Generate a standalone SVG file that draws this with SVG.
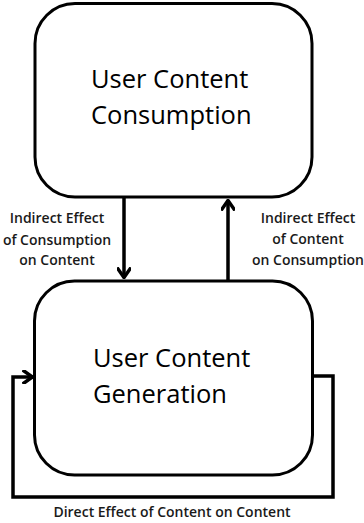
<svg xmlns="http://www.w3.org/2000/svg" width="364" height="523" viewBox="0 0 364 523">
  <style>
    .box { fill: #ffffff; stroke: #000000; stroke-width: 3; }
    .big { font-family: "Open Sans", "Liberation Sans", sans-serif; font-size: 25.5px; fill: #000000; }
    .lbl { font-family: "Open Sans", "Liberation Sans", sans-serif; font-size: 14px; font-weight: 600; fill: #1a1a1a; text-anchor: middle; }
    .wire { fill: none; stroke: #000000; stroke-width: 3.5; }
  </style>
  <defs>
    <marker id="chev" viewBox="0 0 12 14" refX="11" refY="7" markerWidth="12" markerHeight="14" markerUnits="userSpaceOnUse" orient="auto">
      <path d="M2,1 L10.5,7 L2,13" fill="none" stroke="#000000" stroke-width="3.5" stroke-linecap="square"/>
    </marker>
  </defs>
  <rect width="364" height="523" fill="#ffffff"/>

  <g id="connectors">
    <line class="wire" x1="124" y1="198" x2="124" y2="278" marker-end="url(#chev)"/>
    <line class="wire" x1="228" y1="281" x2="228" y2="200" marker-end="url(#chev)"/>
    <path class="wire" d="M312,376 H333 V497 H13 V377 H33" marker-end="url(#chev)"/>
    <text class="lbl" x="57" y="223">Indirect Effect</text>
    <text class="lbl" x="57" y="245">of Consumption</text>
    <text class="lbl" x="57" y="265">on Content</text>
    <text class="lbl" x="308" y="223">Indirect Effect</text>
    <text class="lbl" x="308" y="244">of Content</text>
    <text class="lbl" x="308" y="265">on Consumption</text>
    <text class="lbl" x="172" y="517">Direct Effect of Content on Content</text>
  </g>

  <g id="consumption">
    <rect class="box" x="35" y="3.5" width="277" height="193.5" rx="40" ry="40"/>
    <text class="big" x="91" y="88">User Content</text>
    <text class="big" x="91" y="124">Consumption</text>
  </g>

  <g id="generation">
    <rect class="box" x="34.5" y="281" width="278" height="194" rx="40" ry="40"/>
    <text class="big" x="93" y="367">User Content</text>
    <text class="big" x="93" y="403">Generation</text>
  </g>
</svg>
